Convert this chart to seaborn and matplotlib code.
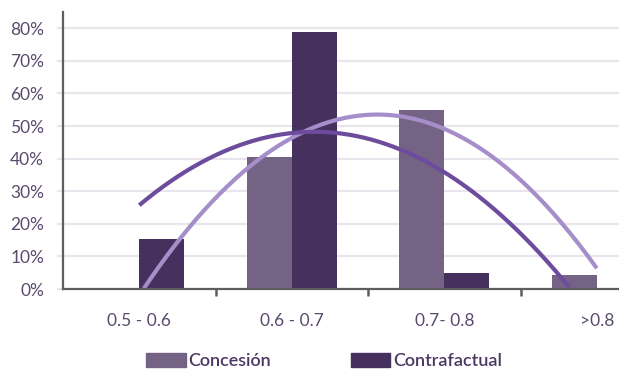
import numpy as np
import pandas as pd
import matplotlib
matplotlib.use("Agg")
import matplotlib.pyplot as plt
import seaborn as sns
from matplotlib.ticker import PercentFormatter, FixedLocator

# Data
categories = ["0.5 - 0.6", "0.6 - 0.7", "0.7- 0.8", ">0.8"]
concesion = [0.0, 0.405, 0.55, 0.044]
contrafactual = [0.154, 0.788, 0.049, 0.0]
series_names = ["Concesión", "Contrafactual"]

bar_colors = ["#756386", "#46305e"]
trend_colors = ["#a58ec9", "#6d4c9e"]
text_color = "#5a4a6e"
legend_text_color = "#4a3862"
axis_color = "#5e5e5e"
grid_color = "#e8e6ec"

df = pd.DataFrame({
    "rango": categories * 2,
    "valor": concesion + contrafactual,
    "serie": [series_names[0]] * len(categories) + [series_names[1]] * len(categories),
})

sns.set_theme(style="white")
plt.rcParams["font.family"] = ["Lato", "DejaVu Sans"]

fig = plt.figure(figsize=(6.19, 3.69), dpi=100)
ax = fig.add_axes([0.1018, 0.2168, 0.9855, 0.7507])

sns.barplot(data=df, x="rango", y="valor", hue="serie", order=categories,
            hue_order=series_names, palette=bar_colors, width=0.59,
            saturation=1, linewidth=0, ax=ax, legend=False, zorder=3)

# Second-order polynomial trend lines per series
xs = np.arange(len(categories))
xfine = np.linspace(0, len(categories) - 1, 300)
for vals, col in zip([concesion, contrafactual], trend_colors):
    coef = np.polyfit(xs, vals, 2)
    yfit = np.polyval(coef, xfine)
    yfit = np.where(yfit < 0, np.nan, yfit)
    ax.plot(xfine, yfit, color=col, lw=3.0, solid_capstyle="butt", zorder=4)

ax.set_xlim(-0.5, len(categories) - 0.5)
ax.set_ylim(0, 0.85)
ax.yaxis.set_major_locator(FixedLocator(np.arange(0, 0.81, 0.1)))
ax.yaxis.set_major_formatter(PercentFormatter(1.0, decimals=0))
ax.grid(axis="y", color=grid_color, lw=1.6, zorder=0)
ax.set_axisbelow(True)

for s in ["top", "right"]:
    ax.spines[s].set_visible(False)
for s in ["left", "bottom"]:
    ax.spines[s].set_color(axis_color)
    ax.spines[s].set_linewidth(1.6)
    ax.spines[s].set_zorder(5)

ax.set_xlabel("")
ax.set_ylabel("")

# Category labels at centres, tick marks at category boundaries
ax.set_xticks(xs)
ax.set_xticklabels(categories)
ax.set_xticks(np.arange(0.5, len(categories) - 1, 1.0), minor=True)
ax.tick_params(axis="x", which="major", length=0, pad=17, labelsize=12.5,
               labelcolor=text_color)
ax.tick_params(axis="x", which="minor", bottom=True, length=5, width=1.8,
               color=axis_color, direction="out")
ax.tick_params(axis="y", which="major", left=True, length=4.5, width=1.6,
               color=grid_color, pad=9, labelsize=12.5, labelcolor=text_color)

handles = [plt.Rectangle((0, 0), 1, 1, color=c) for c in bar_colors]
leg = fig.legend(handles, series_names, loc="center", bbox_to_anchor=(0.5235, 0.022),
                 ncol=2, frameon=False, handlelength=2.2, handleheight=0.8,
                 handletextpad=0.15, columnspacing=4.4,
                 prop={"size": 13, "weight": "semibold"})
for t in leg.get_texts():
    t.set_color(legend_text_color)

fig.savefig("out.png", dpi=100)
